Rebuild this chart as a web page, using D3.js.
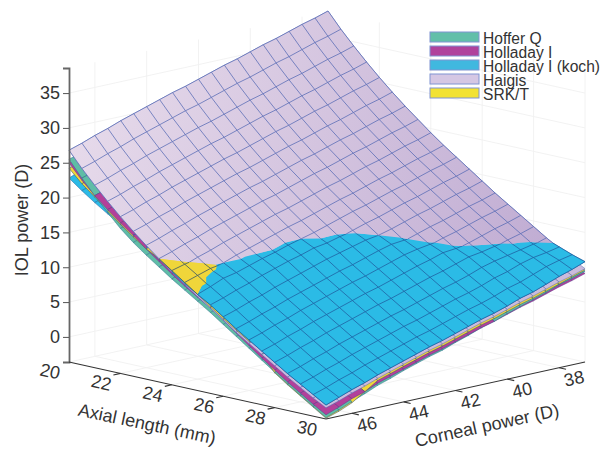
<!DOCTYPE html>
<html>
<head>
<meta charset="utf-8">
<script src="https://cdn.jsdelivr.net/npm/d3@7"></script>
<style>
body{margin:0;background:#fff;}
text{font-family:"Liberation Sans",Arial,sans-serif;fill:#333;}
</style>
</head>
<body>
<svg id="chart" width="602" height="449"></svg>
<script>
const alValues = [20,20.5,21,21.5,22,22.5,23,23.5,24,24.5,25,25.5,26,26.5,27,27.5,28,28.5,29,29.5,30];
const kValues = [47,46.5,46,45.5,45,44.5,44,43.5,43,42.5,42,41.5,41,40.5,40,39.5,39,38.5,38,37.5,37];
const alTicks = [20,22,24,26,28,30];
const kTicks = [46,44,42,40,38];
const zTicks = [0,5,10,15,20,25,30,35];

// IOL power in tenths of a dioptre, rows = axial length, columns = corneal power
const haigis = [
[268,274,281,287,294,300,306,312,318,323,329,335,341,346,352,358,363,369,375,380,386],
[246,252,259,265,272,278,284,290,296,301,307,313,319,324,330,336,341,347,353,358,364],
[226,232,239,245,252,258,264,270,276,281,287,293,299,304,310,316,321,327,333,338,344],
[207,213,220,226,233,239,245,251,257,262,268,274,280,285,291,297,302,308,314,319,325],
[189,195,202,208,215,221,227,233,239,244,250,256,262,267,273,279,284,290,296,301,307],
[172,178,185,191,198,204,210,216,222,227,233,239,245,250,256,262,267,273,279,284,290],
[156,162,169,175,182,188,194,200,206,211,217,223,229,234,240,246,251,257,263,268,274],
[141,147,154,160,167,173,179,185,191,196,202,208,214,219,225,231,236,242,248,253,259],
[126,132,139,145,152,158,164,170,176,181,187,193,199,204,210,216,221,227,233,238,244],
[112,118,125,131,138,144,150,156,162,167,173,179,185,190,196,202,207,213,219,224,230],
[99,105,112,118,125,131,137,143,149,154,160,166,172,177,183,189,194,200,206,211,217],
[86,92,99,105,112,118,124,130,136,141,147,153,159,164,170,176,181,187,193,198,204],
[73,79,86,92,99,105,111,117,123,128,134,140,146,151,157,163,168,174,180,185,191],
[60,66,73,79,86,92,98,104,110,115,121,127,133,138,144,150,155,161,167,172,178],
[48,54,61,67,74,80,86,92,98,103,109,115,121,126,132,138,143,149,155,160,166],
[36,42,49,55,62,68,74,80,86,91,97,103,109,114,120,126,131,137,143,148,154],
[24,30,37,43,50,56,62,68,74,79,85,91,97,102,108,114,119,125,131,136,142],
[12,18,25,31,38,44,50,56,62,67,73,79,85,90,96,102,107,113,119,124,130],
[1,7,14,20,27,33,39,45,51,56,62,68,74,79,85,91,96,102,108,113,119],
[-10,-4,3,9,16,22,28,34,40,45,51,57,63,68,74,80,85,91,97,102,108],
[-20,-14,-7,-1,6,12,18,24,30,35,41,47,53,58,64,70,75,81,87,92,98]];
const koch = [
[228,236,242,247,253,258,263,269,274,277,282,286,289,291,293,296,298,302,306,309,312],
[214,220,226,231,237,242,247,253,258,261,266,270,273,275,277,280,282,286,290,293,296],
[201,207,212,217,223,228,233,239,244,247,252,256,259,261,263,266,268,272,276,279,282],
[189,192,197,202,208,213,218,224,229,232,237,241,244,246,248,251,253,257,261,264,267],
[178,178,183,188,194,199,204,210,215,218,223,227,230,232,234,237,239,243,247,250,253],
[167,165,170,175,181,186,191,197,202,205,210,214,217,219,221,224,226,230,234,237,240],
[154,153,158,163,169,174,179,185,190,193,198,202,205,207,209,212,214,218,222,225,228],
[140,142,147,152,158,163,168,174,179,182,187,191,194,196,198,201,203,207,211,214,217],
[126,131,136,141,147,152,157,163,168,171,176,180,183,185,187,190,192,196,200,203,206],
[113,119,126,131,137,142,147,153,158,161,166,170,173,175,177,180,182,186,190,193,196],
[102,109,117,121,127,133,138,144,149,152,157,161,164,166,168,171,173,177,181,184,187],
[91,97,104,110,117,123,129,134,140,143,148,152,155,157,159,162,164,168,172,175,178],
[78,84,91,97,104,110,116,122,128,133,138,143,146,148,150,153,155,159,163,166,169],
[65,71,78,84,91,97,103,109,115,120,126,132,137,139,141,144,146,150,154,157,160],
[53,59,66,72,79,85,91,97,103,108,114,120,126,130,133,136,138,142,146,149,152],
[41,47,54,60,67,73,79,85,91,96,102,108,114,119,125,127,130,134,138,141,144],
[29,35,42,48,55,61,67,73,79,84,90,96,102,107,113,119,122,126,130,133,136],
[17,23,30,36,43,49,55,61,67,72,78,84,90,95,101,108,113,117,121,125,128],
[6,12,19,25,32,38,44,50,56,61,67,73,79,84,90,97,102,109,114,117,121],
[-5,1,8,14,21,27,33,39,45,50,56,62,68,73,79,86,91,98,105,110,114],
[-16,-9,-2,4,11,17,23,29,35,40,46,52,58,63,69,76,81,88,95,101,108]];
const srkT = [
[242,248,255,261,268,274,280,286,292,297,303,309,315,320,326,332,337,343,349,354,360],
[224,230,237,243,250,256,262,268,274,279,285,291,297,302,308,314,319,325,331,336,342],
[209,215,222,228,235,241,247,253,259,264,270,276,282,287,293,299,304,310,316,321,327],
[193,199,206,212,219,225,231,237,243,248,254,260,266,271,277,283,288,294,300,305,311],
[178,184,191,197,204,210,216,222,228,233,239,245,251,256,262,268,273,279,285,290,296],
[164,170,177,183,190,196,202,208,214,219,225,231,237,242,248,254,259,265,271,276,282],
[151,157,164,170,177,183,189,195,201,206,212,218,224,229,235,241,246,252,258,263,269],
[141,144,149,154,161,167,173,179,185,190,196,202,208,213,219,225,230,236,242,247,253],
[128,133,137,141,146,152,158,164,170,175,181,187,193,198,204,210,215,221,227,232,238],
[115,121,127,130,133,139,145,151,157,162,168,174,180,185,191,197,202,208,214,219,225],
[102,108,113,117,120,126,132,138,144,149,155,161,167,172,178,184,189,195,201,206,212],
[88,92,98,103,107,113,119,125,131,136,142,148,154,159,165,171,176,182,188,193,199],
[75,78,84,87,94,100,106,112,118,123,129,135,141,146,152,158,163,169,175,180,186],
[63,65,68,74,81,87,93,99,105,110,116,122,128,133,139,145,150,156,162,167,173],
[51,53,56,62,69,75,81,87,93,98,104,110,116,121,127,133,138,144,150,155,161],
[37,37,44,50,57,63,69,75,81,86,92,98,104,109,115,121,126,132,138,143,149],
[14,20,32,38,45,51,57,63,69,74,80,86,92,97,103,109,114,120,126,131,137],
[1,7,20,26,33,39,45,51,57,62,68,74,80,85,91,97,102,108,114,119,125],
[-11,-5,8,14,21,28,34,40,46,51,57,63,69,74,80,86,91,97,103,108,114],
[-23,-17,-5,2,10,17,23,29,35,40,46,52,58,63,69,75,80,86,92,97,103],
[-35,-29,-21,-9,3,9,15,21,27,32,38,44,50,55,61,67,72,78,84,90,96]];
const hofferQ = [
[255,261,268,274,281,287,293,299,305,310,316,322,328,333,339,345,350,356,362,367,373],
[232,238,245,251,258,264,270,276,282,287,293,299,305,310,316,322,327,333,339,344,350],
[211,217,224,230,237,243,249,255,261,266,272,278,284,289,295,301,306,312,318,323,329],
[191,197,204,210,217,223,229,235,241,246,252,258,264,269,275,281,286,292,298,303,309],
[172,178,185,191,198,204,210,216,222,227,233,239,245,250,256,262,267,273,279,284,290],
[156,162,169,175,182,188,194,200,206,211,217,223,229,234,240,246,251,257,263,268,274],
[142,148,155,161,168,174,180,186,192,197,203,209,215,220,226,232,237,243,249,254,260],
[129,135,142,148,155,161,167,173,179,184,190,196,202,207,213,219,224,230,236,241,247],
[116,122,129,135,142,148,154,160,166,171,177,183,189,194,200,206,211,217,223,228,234],
[104,110,117,123,130,136,142,148,154,159,165,171,177,182,188,194,199,205,211,216,222],
[92,98,105,111,118,124,130,136,142,147,153,159,165,170,176,182,187,193,199,204,210],
[80,86,93,99,106,112,118,124,130,135,141,147,153,158,164,170,175,181,187,192,198],
[67,73,80,86,93,99,105,111,117,122,128,134,140,145,151,157,162,168,174,179,185],
[54,60,67,73,80,86,92,98,104,109,115,121,127,132,138,144,149,155,161,166,172],
[41,47,54,60,67,73,79,85,91,96,102,108,114,119,125,131,136,142,148,153,159],
[28,34,41,47,54,60,66,72,78,83,89,95,101,106,112,118,123,129,135,140,146],
[15,21,28,34,41,47,53,59,65,70,76,82,88,93,99,105,110,116,122,127,133],
[2,8,15,21,28,34,40,46,52,57,63,69,75,80,86,92,97,103,109,114,120],
[-10,-4,3,9,16,22,28,34,40,45,51,57,63,68,74,80,85,91,97,102,108],
[-22,-16,-9,-3,5,11,18,24,30,36,42,48,55,60,66,73,78,84,91,96,103],
[-34,-27,-19,-12,-4,2,9,15,21,26,33,39,46,51,58,64,70,76,83,88,94]];
const holladay = [
[250,256,263,269,276,282,288,294,300,305,311,317,323,328,334,340,345,351,357,362,368],
[229,235,242,248,255,261,267,273,279,284,290,296,302,307,313,319,324,330,336,341,347],
[211,217,224,230,237,243,249,255,261,266,272,278,284,289,295,301,306,312,318,323,329],
[195,201,208,214,221,227,233,239,245,250,256,262,268,273,279,285,290,296,302,307,313],
[180,186,193,199,206,212,218,224,230,235,241,247,253,258,264,270,275,281,287,292,298],
[166,172,179,185,192,198,204,210,216,221,227,233,239,244,250,256,261,267,273,278,284],
[151,157,164,170,177,183,189,195,201,206,212,218,224,229,235,241,246,252,258,263,269],
[137,143,150,156,163,169,175,181,187,192,198,204,210,215,221,227,232,238,244,249,255],
[123,129,136,142,149,155,161,167,173,178,184,190,196,201,207,213,218,224,230,235,241],
[110,115,122,128,135,141,147,153,159,164,170,176,182,187,193,199,204,210,216,221,227],
[98,102,109,115,122,128,134,140,146,151,157,163,169,174,180,186,191,197,203,208,214],
[87,89,96,102,109,115,121,127,133,138,144,150,156,161,167,173,178,184,190,195,201],
[73,76,83,89,96,102,108,114,120,125,131,137,143,148,154,160,165,171,177,182,188],
[59,63,70,76,83,89,95,101,107,112,118,124,130,135,141,147,152,158,164,169,175],
[45,51,58,64,71,77,83,89,95,100,106,112,118,123,129,135,140,146,152,157,163],
[31,37,44,50,57,63,69,75,81,86,92,98,104,109,115,121,126,132,138,143,149],
[18,24,31,37,44,50,56,62,68,73,79,85,91,96,102,108,113,119,125,130,136],
[5,11,18,24,31,37,43,49,55,60,66,72,78,83,89,95,100,106,112,117,123],
[-7,-1,6,12,19,25,31,37,43,48,54,60,66,71,77,83,88,94,100,105,111],
[-19,-13,-6,0,7,13,19,25,32,37,43,49,55,60,66,72,77,83,90,95,101],
[-30,-23,-15,-9,-1,5,11,17,23,28,34,40,46,51,57,63,68,74,80,85,91]];

const legendNames = ['Hoffer Q','Holladay I','Holladay I (koch)','Haigis','SRK/T'];
const surfaceTables = [hofferQ, holladay, koch, haigis, srkT];
const sheetColors = ['#5fbda6','#b3409a','#2bbbe6','#cbbbdc','#f0d63a'];
const legendColors = ['#62bfa9','#b0429c','#40b8df','#d5c7e4','#f2e233'];
const meshColors = ['#2f6f8f','#5a3a8f','#1f5c9f','#5669b4','#30506a'];

const alX = d3.scaleLinear([20,30],[0,257]);
const alY = d3.scaleLinear([20,30],[0,57]);
const kX = d3.scaleLinear([47,37],[0,259]);
const kY = d3.scaleLinear([47,37],[0,-57]);
const zY = d3.scaleLinear([-3.6,38.6],[362,68]);
const zMin = zY.domain()[0], zMax = zY.domain()[1];

const project = (al,k,z) => [69 + alX(al) + kX(k), zY(z) + alY(al) + kY(k)];

const svg = d3.select('#chart');
const defs = svg.append('defs');
const grad = defs.append('linearGradient').attr('id','haigisFill')
    .attr('gradientUnits','userSpaceOnUse')
    .attr('x1',70).attr('y1',110).attr('x2',560).attr('y2',270);
grad.append('stop').attr('offset',0).attr('stop-color','#e7dbeb');
grad.append('stop').attr('offset',1).attr('stop-color','#bfabd2');

const lineGen = d3.line();
const poly = pts => lineGen(pts) + 'Z';

// walls and floor
const walls = svg.append('g').attr('fill','none').attr('stroke','#f0f0f0').attr('stroke-width',0.9);
const seg = (a,b) => walls.append('path').attr('d',lineGen([a,b]));
[22,24,26,28].forEach(al=>{
    seg(project(al,47,zMin),project(al,37,zMin));
    seg(project(al,37,zMin),project(al,37,zMax));
});
kTicks.forEach(k=>{
    seg(project(20,k,zMin),project(30,k,zMin));
    seg(project(20,k,zMin),project(20,k,zMax));
});
zTicks.forEach(z=>{
    seg(project(20,47,z),project(20,37,z));
    seg(project(20,37,z),project(30,37,z));
});
seg(project(20,37,zMin),project(20,37,zMax));
seg(project(30,37,zMin),project(30,37,zMax));
seg(project(20,37,zMin),project(20,47,zMin));
seg(project(20,37,zMin),project(30,37,zMin));

const node = (i,j) => ({al:alValues[i],k:kValues[j],z:surfaceTables.map(t=>t[i][j]/10)});
const lerp = (a,b,t) => ({
    al:a.al+(b.al-a.al)*t,
    k:a.k+(b.k-a.k)*t,
    z:a.z.map((v,n)=>v+(b.z[n]-v)*t)
});

// lower sheets, cell by cell from the back corner to the front one
const cells = svg.append('g').attr('stroke-width',0.5);
for(let i=0;i<alValues.length-1;i++){
    for(let j=kValues.length-2;j>=0;j--){
        const corners = [node(i,j),node(i+1,j),node(i+1,j+1),node(i,j+1)];
        const order = d3.range(surfaceTables.length)
            .sort((s,t)=>d3.mean(corners,c=>c.z[s])-d3.mean(corners,c=>c.z[t]));
        order.forEach(s=>{
            cells.append('path')
                .attr('d',poly(corners.map(c=>project(c.al,c.k,c.z[s]))))
                .attr('fill',sheetColors[s])
                .attr('stroke',meshColors[s]);
        });
    }
}

// keep only the part of a triangle where surface s is on top
const clipOnTop = (tri,s) => {
    let pts = tri;
    surfaceTables.forEach((_,t)=>{
        if(t==s || !pts.length) return;
        const out = [];
        pts.forEach((p,n)=>{
            const q = pts[(n+1)%pts.length];
            const dp = p.z[s]-p.z[t], dq = q.z[s]-q.z[t];
            if(dp>=0) out.push(p);
            if((dp>=0)!=(dq>=0)) out.push(lerp(p,q,dp/(dp-dq)));
        });
        pts = out;
    });
    return pts;
};
const clipSegment = (a,b,s) => {
    let t0 = 0, t1 = 1;
    surfaceTables.forEach((_,t)=>{
        if(t==s) return;
        const da = a.z[s]-a.z[t], db = b.z[s]-b.z[t];
        if(da<0 && db<0){ t1 = -1; return; }
        if(da<0) t0 = Math.max(t0,da/(da-db));
        if(db<0) t1 = Math.min(t1,da/(da-db));
    });
    return t1>t0 ? [lerp(a,b,t0),lerp(a,b,t1)] : null;
};

// top surface, one path per formula so that no seams show
surfaceTables.forEach((_,s)=>{
    let fillPath = '', meshPath = '';
    const toXY = c => project(c.al,c.k,c.z[s]);
    for(let i=0;i<alValues.length-1;i++){
        for(let j=0;j<kValues.length-1;j++){
            [[node(i,j),node(i+1,j),node(i+1,j+1)],[node(i,j),node(i+1,j+1),node(i,j+1)]].forEach(tri=>{
                const pts = clipOnTop(tri,s);
                if(pts.length>2) fillPath += poly(pts.map(toXY));
            });
        }
    }
    for(let i=0;i<alValues.length;i++){
        for(let j=0;j<kValues.length;j++){
            if(i<alValues.length-1){
                const piece = clipSegment(node(i,j),node(i+1,j),s);
                if(piece) meshPath += lineGen(piece.map(toXY));
            }
            if(j<kValues.length-1){
                const piece = clipSegment(node(i,j),node(i,j+1),s);
                if(piece) meshPath += lineGen(piece.map(toXY));
            }
        }
    }
    svg.append('path').attr('d',fillPath)
        .attr('fill',legendNames[s]=='Haigis' ? 'url(#haigisFill)' : sheetColors[s]);
    svg.append('path').attr('class','mesh').attr('d',meshPath)
        .attr('fill','none').attr('stroke',meshColors[s]).attr('stroke-width',0.75);
});

// axes
const zAxis = svg.append('g').attr('transform','translate(69,0)')
    .call(d3.axisLeft(zY).tickValues(zTicks).tickSize(6).tickPadding(3).tickFormat(d3.format('d')));
zAxis.select('.domain').attr('stroke','#666').attr('stroke-width',1.8);
zAxis.selectAll('.tick line').attr('stroke','#555').attr('stroke-width',1);
zAxis.selectAll('text').attr('font-size',18).attr('font-family','"Liberation Sans",Arial,sans-serif').attr('fill','#333');

const floorAxes = svg.append('g').attr('fill','none').attr('stroke','#333').attr('stroke-width',1.1);
floorAxes.append('path').attr('d',lineGen([project(20,47,zMin),project(30,47,zMin)]));
floorAxes.append('path').attr('d',lineGen([project(30,47,zMin),project(30,37,zMin)]));
alTicks.slice(1,-1).forEach(al=>{
    floorAxes.append('path').attr('d',lineGen([project(al,47,zMin),project(al,47.27,zMin)]));
});
kTicks.forEach(k=>{
    floorAxes.append('path').attr('d',lineGen([project(30,k,zMin),project(30.27,k,zMin)]));
});

const rotatedLabel = (x,y,angle,label,size) => svg.append('text')
    .attr('transform',`translate(${x},${y}) rotate(${angle})`)
    .attr('text-anchor','middle').attr('dominant-baseline','central')
    .attr('font-size',size).text(label);

alTicks.forEach(al=>{
    const p = project(al,47,zMin);
    rotatedLabel(p[0]-19,p[1]+9.5,12.5,al,18);
});
kTicks.forEach(k=>{
    const p = project(30,k,zMin);
    rotatedLabel(p[0]+15,p[1]+11,-12.5,k,18);
});
rotatedLabel(147,424,11.8,'Axial length (mm)',18);
rotatedLabel(487,425.5,-12.2,'Corneal power (D)',18);
rotatedLabel(22,220,-90,'IOL power (D)',18);

// legend
const legend = svg.append('g').attr('transform','translate(430,32)');
legendNames.forEach((name,n)=>{
    legend.append('rect').attr('x',0).attr('y',n*14).attr('width',49).attr('height',10)
        .attr('fill',legendColors[n]).attr('stroke','#8094d2').attr('stroke-width',1);
    legend.append('text').attr('x',53).attr('y',n*14+12).attr('font-size',15.6).text(name);
});
</script>
</body>
</html>
